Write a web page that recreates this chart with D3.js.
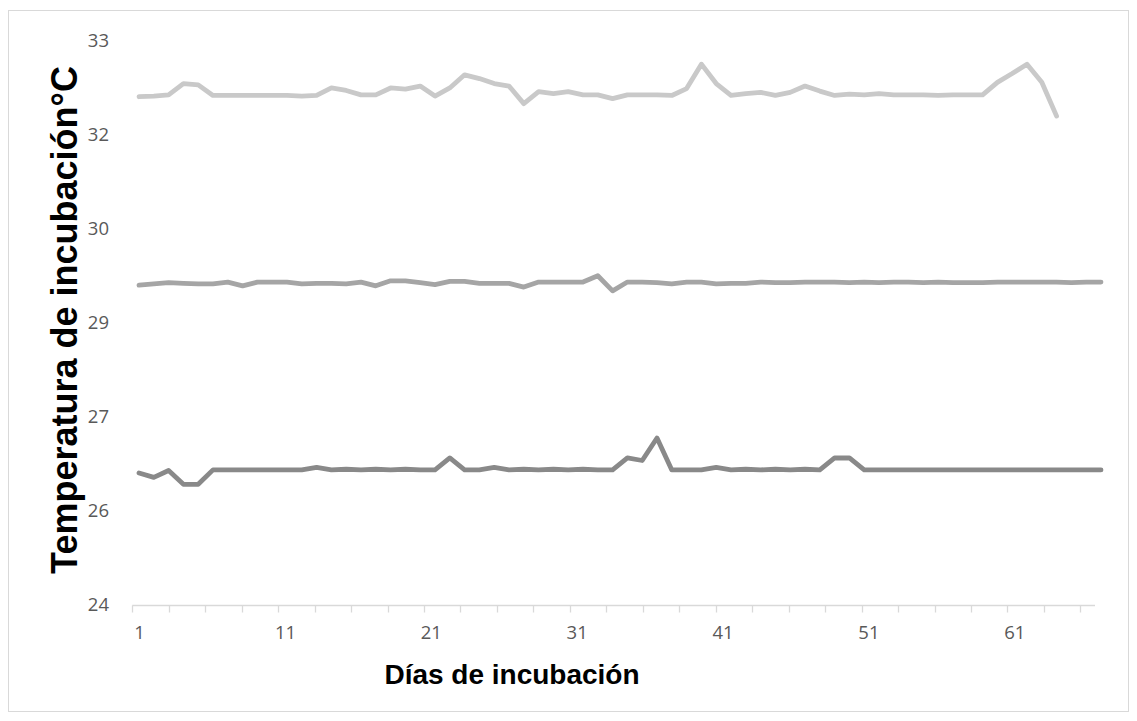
<!DOCTYPE html>
<html>
<head>
<meta charset="utf-8">
<script src="https://cdn.jsdelivr.net/npm/d3@7"></script>
<style>
  html, body { margin: 0; padding: 0; background: #fff; }
  svg { display: block; }
</style>
</head>
<body>
<div id="chart"></div>
<script>
// ---- data ----
const dayLabels = [1, 11, 21, 31, 41, 51, 61];
const yTicks = [24, 25.5, 27, 28.5, 30, 31.5, 33];

const tempHigh = [32.11, 32.12, 32.14, 32.32, 32.30, 32.13, 32.13, 32.13, 32.13, 32.13,
  32.13, 32.12, 32.13, 32.25, 32.21, 32.14, 32.14, 32.25, 32.23, 32.28,
  32.12, 32.25, 32.46, 32.40, 32.32, 32.28, 32.00, 32.19, 32.16, 32.19,
  32.14, 32.14, 32.08, 32.14, 32.14, 32.14, 32.13, 32.24, 32.63, 32.32,
  32.13, 32.16, 32.18, 32.13, 32.18, 32.28, 32.20, 32.13, 32.15, 32.14,
  32.16, 32.14, 32.14, 32.14, 32.13, 32.14, 32.14, 32.14, 32.34, 32.48,
  32.63, 32.34, 31.80];

const tempMid = [29.10, 29.12, 29.14, 29.13, 29.12, 29.12, 29.15, 29.09, 29.15, 29.15,
  29.15, 29.12, 29.13, 29.13, 29.12, 29.15, 29.09, 29.17, 29.17, 29.14,
  29.11, 29.16, 29.16, 29.13, 29.13, 29.13, 29.07, 29.15, 29.15, 29.15,
  29.15, 29.25, 29.01, 29.15, 29.15, 29.14, 29.12, 29.15, 29.15, 29.12,
  29.13, 29.13, 29.15, 29.14, 29.14, 29.15, 29.15, 29.15, 29.14, 29.15,
  29.14, 29.15, 29.15, 29.14, 29.15, 29.14, 29.14, 29.14, 29.15, 29.15,
  29.15, 29.15, 29.15, 29.14, 29.15, 29.15];

const tempLow = [26.10, 26.03, 26.14, 25.92, 25.92, 26.15, 26.15, 26.15, 26.15, 26.15,
  26.15, 26.15, 26.19, 26.15, 26.16, 26.15, 26.16, 26.15, 26.16, 26.15,
  26.15, 26.34, 26.15, 26.15, 26.19, 26.15, 26.16, 26.15, 26.16, 26.15,
  26.16, 26.15, 26.15, 26.34, 26.30, 26.66, 26.15, 26.15, 26.15, 26.19,
  26.15, 26.16, 26.15, 26.16, 26.15, 26.16, 26.15, 26.34, 26.34, 26.15,
  26.15, 26.15, 26.15, 26.15, 26.15, 26.15, 26.15, 26.15, 26.15, 26.15,
  26.15, 26.15, 26.15, 26.15, 26.15, 26.15];

const seriesColors = ["#c9c9c9", "#a5a5a5", "#898989"];

// ---- layout ----
const W = 1137, H = 721;
const svg = d3.select("#chart").append("svg").attr("width", W).attr("height", H);

svg.append("rect").attr("x", 8.5).attr("y", 10.5).attr("width", 1120).attr("height", 701)
  .attr("fill", "#fff").attr("stroke", "#d9d9d9").attr("stroke-width", 1);

const y = d3.scaleLinear().domain([24, 33]).range([604.5, 41]);
const xAxisScale = d3.scaleLinear().domain([0.5, 66.5]).range([132.3, 1095]);
const xLine = d3.scaleLinear().domain([1, 66]).range([139, 1101]);

// x axis
const tickVals = d3.range(0, 27).map(k => 0.5 + 2.5 * k);
const gx = svg.append("g").attr("transform", "translate(0,605.5)");
gx.append("line").attr("x1", xAxisScale(0.5)).attr("x2", xAxisScale(66.5))
  .attr("stroke", "#d9d9d9").attr("stroke-width", 1.3);
gx.selectAll("line.tk").data(tickVals).join("line").attr("class", "tk")
  .attr("x1", d => Math.round(xAxisScale(d)) + 0.5).attr("x2", d => Math.round(xAxisScale(d)) + 0.5)
  .attr("y1", 0).attr("y2", 7).attr("stroke", "#d9d9d9").attr("stroke-width", 1.3);
gx.selectAll("text").data(dayLabels).join("text")
  .attr("x", d => xAxisScale(d)).attr("y", 33)
  .attr("text-anchor", "middle")
  .attr("font-family", "'Open Sans', sans-serif").attr("font-size", 18.5)
  .attr("fill", "#595959").text(d => d);

// y axis labels
svg.append("g").selectAll("text").data(yTicks).join("text")
  .attr("x", 109).attr("y", d => y(d)).attr("dy", "0.35em")
  .attr("text-anchor", "end")
  .attr("font-family", "'Open Sans', sans-serif").attr("font-size", 18.5)
  .attr("fill", "#595959").text(d => d3.format(".0f")(d));

// lines
const line = d3.line().x((d, i) => xLine(i + 1)).y(d => y(d));
[tempHigh, tempMid, tempLow].forEach((s, i) => {
  svg.append("path").datum(s).attr("d", line)
    .attr("fill", "none").attr("stroke", seriesColors[i])
    .attr("stroke-width", 4.8).attr("stroke-linejoin", "round").attr("stroke-linecap", "round");
});

// titles
svg.append("text").attr("x", 512).attr("y", 684)
  .attr("text-anchor", "middle")
  .attr("font-family", "'Liberation Sans', Arial, sans-serif").attr("font-weight", "bold")
  .attr("font-size", 28).attr("fill", "#000").text("Días de incubación");

svg.append("text").attr("transform", "translate(77,320) rotate(-90)")
  .attr("text-anchor", "middle")
  .attr("font-family", "'Liberation Sans', Arial, sans-serif").attr("font-weight", "bold")
  .attr("font-size", 36).attr("fill", "#000").text("Temperatura de incubación°C");
</script>
</body>
</html>
